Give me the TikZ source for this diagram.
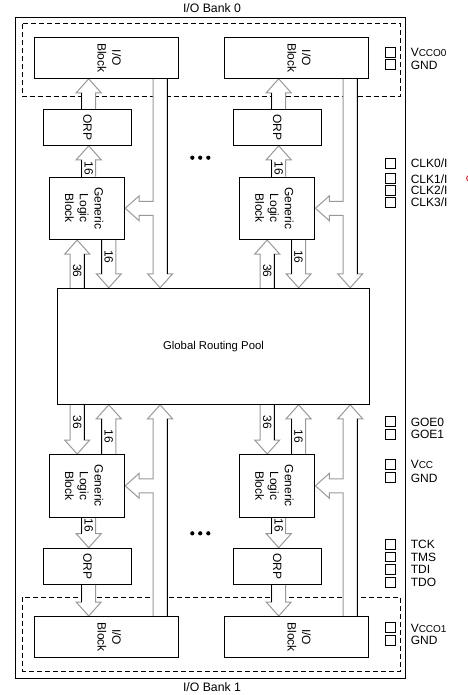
\documentclass[tikz,border=0pt]{standalone}
\usepackage{fontspec}
\setmainfont{Liberation Sans}
\usetikzlibrary{calc,backgrounds}
\definecolor{arrgray}{gray}{0.6}
\def\bsw{5.25pt}\def\bhw{9.375pt}\def\bhl{10.5pt}
\newcommand\smallpin[1]{{\fontsize{7.5}{8}\selectfont #1}}
\tikzset{
 box/.style={draw, line width=0.75pt, inner sep=0pt},
 iobox/.style={box, minimum width=108pt, minimum height=30.75pt},
 orpbox/.style={box, minimum width=66.3pt, minimum height=27pt},
 glbbox/.style={box, minimum width=56.55pt, minimum height=46.9pt},
 grpbox/.style={box, minimum width=233.7pt, minimum height=87pt, font=\fontsize{8.5}{10}\selectfont},
 rtext/.style={rotate=-90, align=center, inner sep=0pt, font=\fontsize{9}{11}\selectfont},
 numlab/.style={rotate=-90, inner sep=0pt, font=\fontsize{9}{10}\selectfont, text=black},
 pinsq/.style={draw, line width=0.75pt, minimum size=7.3pt, inner sep=0pt},
 pinlab/.style={anchor=west, inner sep=0pt, text height=6.5pt, text depth=0pt, font=\fontsize{9}{10}\selectfont},
 banktitle/.style={inner sep=0pt, font=\fontsize{9.2}{11}\selectfont},
 barrow/.style={draw=arrgray, fill=white, line width=0.75pt},
 bline/.style={draw=black, line width=0.75pt},
 dashbox/.style={draw, line width=0.75pt, dash pattern=on 3.75pt off 2.25pt},
}
% #1 label, #2 tail point, #3 tip point, #4 black side (-1 left, 1 right)
\newcommand\blockarrow[4][]{%
 \filldraw[barrow] let \p1=(#2), \p2=(#3), \n1={ifthenelse(\y2>\y1,1,-1)} in
  ({\x1-\bsw},\y1) -- ({\x1-\bsw},{\y2-(\n1)*\bhl}) -- ({\x1-\bhw},{\y2-(\n1)*\bhl}) -- (\x2,\y2)
  -- ({\x1+\bhw},{\y2-(\n1)*\bhl}) -- ({\x1+\bsw},{\y2-(\n1)*\bhl}) -- ({\x1+\bsw},\y1);
 \draw[bline] let \p1=(#2), \p2=(#3), \n1={ifthenelse(\y2>\y1,1,-1)} in
  ({\x1+(#4)*\bsw},\y1) -- ({\x1+(#4)*\bsw},{\y2-(\n1)*\bhl})
  ({\x1},{(\y1+\y2-(\n1)*\bhl)/2}) node[numlab]{#1};
}
% #1 start point, #2 tip point, #3 branch tip (to the left)
\newcommand\busarrow[3]{%
 \filldraw[barrow] let \p1=(#1), \p2=(#2), \p3=(#3), \n1={ifthenelse(\y2>\y1,1,-1)} in
  ({\x1-\bsw},\y1) -- ({\x1-\bsw},{\y3-(\n1)*\bsw}) -- ({\x3+\bhl},{\y3-(\n1)*\bsw})
  -- ({\x3+\bhl},{\y3-(\n1)*\bhw}) -- (\x3,\y3) -- ({\x3+\bhl},{\y3+(\n1)*\bhw})
  -- ({\x3+\bhl},{\y3+(\n1)*\bsw}) -- ({\x1-\bsw},{\y3+(\n1)*\bsw})
  -- ({\x1-\bsw},{\y2-(\n1)*\bhl}) -- ({\x1-\bhw},{\y2-(\n1)*\bhl}) -- (\x2,\y2)
  -- ({\x1+\bhw},{\y2-(\n1)*\bhl}) -- ({\x1+\bsw},{\y2-(\n1)*\bhl}) -- ({\x1+\bsw},\y1);
 \draw[bline] let \p1=(#1), \p2=(#2), \n1={ifthenelse(\y2>\y1,1,-1)} in
  ({\x1+\bsw},\y1) -- ({\x1+\bsw},{\y2-(\n1)*\bhl});
}
\begin{document}
\begin{tikzpicture}[x=0.75pt,y=-0.75pt]
\useasboundingbox (0,0) rectangle (467,695);
% titles and frame
\node[banktitle] (t0) at (212,8.5) {I/O Bank 0};
\node[banktitle] (t1) at (212,687) {I/O Bank 1};
\draw[line width=0.75pt] (15.3,17.3) rectangle (405.7,678);
% blocks
\node[iobox] (ioT1) at (106.3,57.8) {};
\node[iobox] (ioT2) at (296.2,57.8) {};
\node[orpbox] (orpT1) at (87.5,127.3) {};
\node[orpbox] (orpT2) at (277.3,127.3) {};
\node[glbbox] (glbT1) at (87,208.3) {};
\node[glbbox] (glbT2) at (277.2,208.3) {};
\node[grpbox] (grp) at (213.5,346.3) {Global Routing Pool};
\node[glbbox] (glbB1) at (87,485.8) {};
\node[glbbox] (glbB2) at (277.2,485.8) {};
\node[orpbox] (orpB1) at (87.5,566.2) {};
\node[orpbox] (orpB2) at (277.3,566.2) {};
\node[iobox] (ioB1) at (106.3,637) {};
\node[iobox] (ioB2) at (296.2,637) {};
% block texts
\node[rtext] (ioT1t) at ([xshift=2.25pt]ioT1.center) {I/O\\Block};
\node[rtext] (ioT2t) at ([xshift=2.25pt]ioT2.center) {I/O\\Block};
\node[rtext] (ioB1t) at ([xshift=2.25pt]ioB1.center) {I/O\\Block};
\node[rtext] (ioB2t) at ([xshift=2.25pt]ioB2.center) {I/O\\Block};
\node[rtext] (orpT1t) at (orpT1.center) {ORP};
\node[rtext] (orpT2t) at (orpT2.center) {ORP};
\node[rtext] (orpB1t) at (orpB1.center) {ORP};
\node[rtext] (orpB2t) at (orpB2.center) {ORP};
\node[rtext] (glbT1t) at ([xshift=-2.1pt]glbT1.center) {Generic\\Logic\\Block};
\node[rtext] (glbT2t) at ([xshift=-2.1pt]glbT2.center) {Generic\\Logic\\Block};
\node[rtext] (glbB1t) at ([xshift=-2.1pt]glbB1.center) {Generic\\Logic\\Block};
\node[rtext] (glbB2t) at ([xshift=-2.1pt]glbB2.center) {Generic\\Logic\\Block};
% dots
\foreach \xx in {192.3,200.2,208.3}{
  \fill (\xx,157.7) circle[radius=1.6pt];
  \fill (\xx,533.3) circle[radius=1.6pt];
}
% pins
\node[pinsq] (s1) at (390.8,52.5) {};  \node[pinlab] (l1) at (410.5,52.5) {V\smallpin{CCO0}};
\node[pinsq] (s2) at (390.8,64.7) {};  \node[pinlab] (l2) at (410.5,64.7) {GND};
\node[pinsq] (s3) at (390.8,163.3) {}; \node[pinlab] (l3) at (410.5,163.3) {CLK0/I};
\node[pinsq] (s4) at (390.8,178.7) {}; \node[pinlab] (l4) at (410.5,178.7) {CLK1/I};
\node[pinsq] (s5) at (390.8,190.3) {}; \node[pinlab] (l5) at (410.5,190.3) {CLK2/I};
\node[pinsq] (s6) at (390.8,202.2) {}; \node[pinlab] (l6) at (410.5,202.2) {CLK3/I};
\node[pinsq] (s7) at (390.8,421.8) {}; \node[pinlab] (l7) at (410.5,421.8) {GOE0};
\node[pinsq] (s8) at (390.8,434.5) {}; \node[pinlab] (l8) at (410.5,434.5) {GOE1};
\node[pinsq] (s9) at (390.8,464.5) {}; \node[pinlab] (l9) at (410.5,464.5) {V\smallpin{CC}};
\node[pinsq] (s10) at (390.8,477.8) {}; \node[pinlab] (l10) at (410.5,477.8) {GND};
\node[pinsq] (s11) at (390.8,544.2) {}; \node[pinlab] (l11) at (410.5,544.2) {TCK};
\node[pinsq] (s12) at (390.8,557) {};   \node[pinlab] (l12) at (410.5,557) {TMS};
\node[pinsq] (s13) at (390.8,569.5) {}; \node[pinlab] (l13) at (410.5,569.5) {TDI};
\node[pinsq] (s14) at (390.8,582.2) {}; \node[pinlab] (l14) at (410.5,582.2) {TDO};
\node[pinsq] (s15) at (390.8,627.8) {}; \node[pinlab] (l15) at (410.5,627.8) {V\smallpin{CCO1}};
\node[pinsq] (s16) at (390.8,640.5) {}; \node[pinlab] (l16) at (410.5,640.5) {GND};
\draw[red, line width=0.6pt] (469.5,178.3) circle[radius=2.2pt];
% axes
\coordinate (aO1) at (88.7,0);  \coordinate (aO2) at (278.7,0);
\coordinate (a361) at (77.2,0); \coordinate (a362) at (267.2,0);
\coordinate (a161) at (108.8,0); \coordinate (a162) at (298.6,0);
\coordinate (ab1) at (160.1,0); \coordinate (ab2) at (350.2,0);
\begin{pgfonlayer}{background}
\draw[dashbox] (22.3,24) rectangle (400.3,96.7);
\draw[dashbox] (22.3,597.3) rectangle (400.3,671);
% top left
\blockarrow{aO1 |- orpT1.north}{aO1 |- ioT1.south}{-1}
\blockarrow[16]{aO1 |- glbT1.north}{aO1 |- orpT1.south}{-1}
\blockarrow[36]{a361 |- grp.north}{a361 |- glbT1.south}{1}
\blockarrow[16]{a161 |- glbT1.south}{a161 |- grp.north}{-1}
\busarrow{ab1 |- ioT1.south}{ab1 |- grp.north}{glbT1.east}
% top right
\blockarrow{aO2 |- orpT2.north}{aO2 |- ioT2.south}{-1}
\blockarrow[16]{aO2 |- glbT2.north}{aO2 |- orpT2.south}{-1}
\blockarrow[36]{a362 |- grp.north}{a362 |- glbT2.south}{1}
\blockarrow[16]{a162 |- glbT2.south}{a162 |- grp.north}{-1}
\busarrow{ab2 |- ioT2.south}{ab2 |- grp.north}{glbT2.east}
% bottom left
\blockarrow[36]{a361 |- grp.south}{a361 |- glbB1.north}{1}
\blockarrow[16]{a161 |- glbB1.north}{a161 |- grp.south}{-1}
\busarrow{ab1 |- ioB1.north}{ab1 |- grp.south}{glbB1.east}
\blockarrow[16]{aO1 |- glbB1.south}{aO1 |- orpB1.north}{-1}
\blockarrow{aO1 |- orpB1.south}{aO1 |- ioB1.north}{-1}
% bottom right
\blockarrow[36]{a362 |- grp.south}{a362 |- glbB2.north}{1}
\blockarrow[16]{a162 |- glbB2.north}{a162 |- grp.south}{-1}
\busarrow{ab2 |- ioB2.north}{ab2 |- grp.south}{glbB2.east}
\blockarrow[16]{aO2 |- glbB2.south}{aO2 |- orpB2.north}{-1}
\blockarrow{aO2 |- orpB2.south}{aO2 |- ioB2.north}{-1}
\end{pgfonlayer}
\end{tikzpicture}
\end{document}
